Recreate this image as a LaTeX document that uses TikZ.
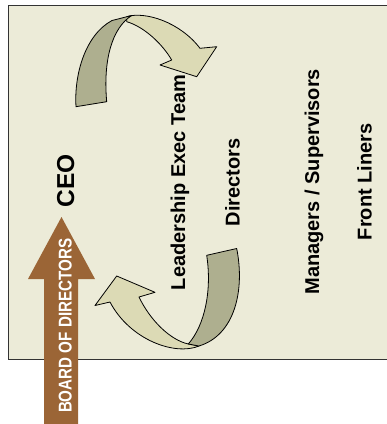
\documentclass[tikz,border=0pt]{standalone}
\usepackage{fontspec}
\setmainfont{Liberation Sans}
\newfontfamily\narrowfont[FakeStretch=0.82]{Liberation Sans Bold}
\definecolor{bgbeige}{HTML}{ECEBD8}
\definecolor{darkolive}{HTML}{AEAF8F}
\definecolor{lightolive}{HTML}{DCDAB5}
\definecolor{boardbrown}{HTML}{9B6536}
\begin{document}
\begin{tikzpicture}[x=1bp,y=-1bp,
  lvl/.style={rotate=90,anchor=base,inner sep=0pt,font=\fontsize{20bp}{24bp}\selectfont\bfseries,text=black},
  ribbon/.style={draw=black,line width=0.8bp,line join=round},
  frame/.style={draw=black!80,line width=1bp,fill=bgbeige}]
\useasboundingbox (0,0) rectangle (387,424);
% background frame
\path[frame] (8,5) rectangle (395,359);
% top curved arrow
\path[ribbon,fill=lightolive] (126.7,16.7) .. controls (145,11) and (180,22) .. (200,48.3)
  -- (216.7,46.7) -- (196.7,76.7) -- (160,65) -- (171.7,60)
  .. controls (163,45) and (145,27) .. (126.7,21.7) -- cycle;
\path[ribbon,fill=darkolive] (76,106.7) .. controls (74,75) and (85,35) .. (112,20.5)
  -- (131.7,15.5) .. controls (112,28) and (103,60) .. (106.7,101.7) -- cycle;
% bottom curved arrow
\path[ribbon,fill=lightolive] (199,346) .. controls (175,356) and (130,340) .. (110,302)
  -- (95,305.5) -- (116.7,276) -- (155,292.3) -- (139,297)
  .. controls (150,320) and (170,340) .. (188.3,344) -- cycle;
\path[ribbon,fill=darkolive] (206.7,255.3) -- (236.7,248.5)
  .. controls (245,290) and (235,335) .. (199,346) -- (188.3,344)
  .. controls (205,325) and (212,290) .. (206.7,255.3) -- cycle;
% board of directors arrow
\path[fill=boardbrown] (44,430) -- (44,279) -- (28,279) -- (61.5,217) -- (95,279) -- (78,279) -- (78,430) -- cycle;
\node[rotate=90,anchor=base,inner sep=0pt,text=white,font=\narrowfont\fontsize{18.5bp}{22bp}\selectfont] (board) at (71.7,325.9) {BOARD OF DIRECTORS};
% levels
\node[lvl,font=\fontsize{24.5bp}{28bp}\selectfont\bfseries] (ceo) at (74,181) {CEO};
\node[lvl] (let) at (185,182.5) {Leadership Exec Team};
\node[lvl] (dir) at (239.5,182.3) {Directors};
\node[lvl] (mgr) at (319,181.7) {Managers / Supervisors};
\node[lvl] (front) at (371.5,181.7) {Front Liners};
\end{tikzpicture}
\end{document}
